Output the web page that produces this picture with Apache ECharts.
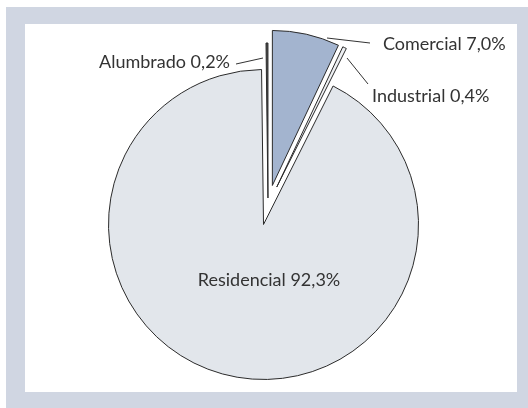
<!DOCTYPE html>
<html>
<head>
<meta charset="utf-8">
<script src="https://cdn.jsdelivr.net/npm/echarts@6/dist/echarts.min.js"></script>
<style>
html, body { margin: 0; padding: 0; background: #fff; }
#main { width: 528px; height: 408px; }
</style>
</head>
<body>
<div id="main"></div>
<script>
// consumo por sector, en %
var categories = ['Comercial', 'Industrial', 'Residencial', 'Alumbrado'];
var shares = [7.0, 0.4, 92.3, 0.2];
var labelTexts = ['Comercial 7,0%', 'Industrial 0,4%', 'Residencial 92,3%', 'Alumbrado 0,2%'];

var sliceColors = ['#a3b4cf', '#eef0f3', '#e2e6eb', '#4a4a4a'];
// Alumbrado va menos separado que los demas
var farOut = [true, true, true, false];

// donde va cada etiqueta (y su linea guia)
var labelPos = {
    Comercial: { x: 383, y: 44, align: 'left', line: [[327, 38], [370, 43]] },
    Industrial: { x: 372, y: 96, align: 'left', line: [[347, 58], [368, 84]] },
    Residencial: { x: 269, y: 280, align: 'center', line: null },
    Alumbrado: { x: 230, y: 62, align: 'right', line: [[236, 64], [263, 58]] }
};

var chart = echarts.init(document.getElementById('main'));

function buildData(wantFar) {
    return categories.map(function (name, i) {
        var show = farOut[i] === wantFar;
        return {
            name: name,
            value: shares[i],
            selected: true,
            itemStyle: show
                ? { color: sliceColors[i], borderColor: '#2b2b2b', borderWidth: 1 }
                : { color: 'rgba(0,0,0,0)', borderWidth: 0 }
        };
    });
}

function pieSeries(wantFar, offset) {
    return {
        type: 'pie',
        center: [268, 205],
        radius: 155,
        startAngle: 90,
        clockwise: true,
        selectedMode: 'multiple',
        selectedOffset: offset,
        silent: true,
        emphasis: { disabled: true },
        label: { show: false },
        labelLine: { show: false },
        data: buildData(wantFar)
    };
}

// etiquetas y lineas guia
var labelGraphics = [];
categories.forEach(function (name, i) {
    var p = labelPos[name];
    labelGraphics.push({
        type: 'text', z: 10, silent: true,
        x: p.x, y: p.y,
        style: {
            text: labelTexts[i],
            fill: '#333',
            font: '18px Lato',
            textAlign: p.align,
            textVerticalAlign: 'middle'
        }
    });
    if (p.line) {
        labelGraphics.push({
            type: 'polyline', z: 10, silent: true,
            shape: { points: p.line },
            style: { stroke: '#333', lineWidth: 1, fill: null }
        });
    }
});

var option = {
    animation: false,
    backgroundColor: '#fff',
    graphic: [
        { type: 'rect', z: 0, silent: true, shape: { x: 6, y: 7, width: 522, height: 401 }, style: { fill: '#d0d6e2' } },
        { type: 'rect', z: 0, silent: true, shape: { x: 25, y: 24, width: 492, height: 368 }, style: { fill: '#fff' } }
    ].concat(labelGraphics),
    series: [
        pieSeries(true, 20),
        pieSeries(false, 7)
    ]
};

chart.setOption(option);
</script>
</body>
</html>
